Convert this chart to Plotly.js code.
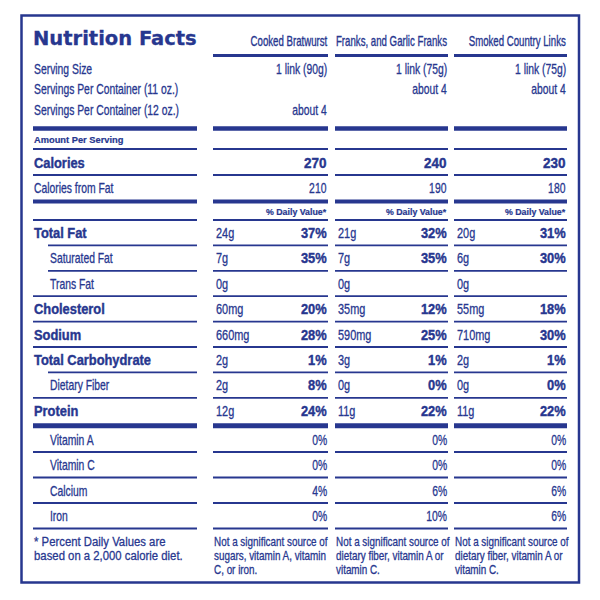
<!DOCTYPE html>
<html><head><meta charset="utf-8">
<script src="https://cdn.plot.ly/plotly-3.0.1.min.js"></script>
<style>html,body{margin:0;padding:0;background:#fff}#chart{width:600px;height:600px}</style>
</head><body><div id="chart"></div>
<script>
// ---------- data ----------
const title = "Nutrition Facts";
const products = ["Cooked Bratwurst", "Franks, and Garlic Franks", "Smoked Country Links"];
const servingLabels = ["Serving Size", "Servings Per Container (11 oz.)", "Servings Per Container (12 oz.)"];
const servingSize = ["1 link (90g)", "1 link (75g)", "1 link (75g)"];
const servings11oz = ["", "about 4", "about 4"];
const servings12oz = ["about 4", "", ""];
const calories = [270, 240, 230];
const caloriesFromFat = [210, 190, 180];
const nutrientLabels = ["Total Fat", "Saturated Fat", "Trans Fat", "Cholesterol", "Sodium", "Total Carbohydrate", "Dietary Fiber", "Protein"];
const nutrientIsSub = [false, true, true, false, false, false, true, false];
const amountsBratwurst = ["24g", "7g", "0g", "60mg", "660mg", "2g", "2g", "12g"];
const dvBratwurst = ["37%", "35%", "", "20%", "28%", "1%", "8%", "24%"];
const amountsFranks = ["21g", "7g", "0g", "35mg", "590mg", "3g", "0g", "11g"];
const dvFranks = ["32%", "35%", "", "12%", "25%", "1%", "0%", "22%"];
const amountsSmoked = ["20g", "6g", "0g", "55mg", "710mg", "2g", "0g", "11g"];
const dvSmoked = ["31%", "30%", "", "18%", "30%", "1%", "0%", "22%"];
const vitaminLabels = ["Vitamin A", "Vitamin C", "Calcium", "Iron"];
const vitBratwurst = [0, 0, 4, 0];
const vitFranks = [0, 0, 6, 10];
const vitSmoked = [0, 0, 6, 6];
const footnoteLeft = ["* Percent Daily Values are", "based on a 2,000 calorie diet."];
const footBratwurst = ["Not a significant source of", "sugars, vitamin A, vitamin", "C, or iron."];
const footFranks = ["Not a significant source of", "dietary fiber, vitamin A or", "vitamin C."];
const footSmoked = ["Not a significant source of", "dietary fiber, vitamin A or", "vitamin C."];

const amounts = [amountsBratwurst, amountsFranks, amountsSmoked];
const dvs = [dvBratwurst, dvFranks, dvSmoked];
const vits = [vitBratwurst, vitFranks, vitSmoked];
const foots = [footBratwurst, footFranks, footSmoked];

// ---------- styling / geometry ----------
const BLUE = "#27378f";
const REG = "Liberation Sans, Arial, sans-serif";
const HEAVY = "DejaVu Sans, sans-serif";
const S_TITLE = {family: HEAVY, size: 19.5, bold: true, scale: 1, stroke: 0.3};
const S_HEAD = {family: REG, size: 14, bold: false, scale: 0.69, stroke: 0.35};
const S_NAR = {family: REG, size: 14, bold: false, scale: 0.74, stroke: 0.3};
const S_AMT = {family: REG, size: 14, bold: false, scale: 0.78, stroke: 0.3};
const S_BOLD = {family: REG, size: 14.3, bold: true, scale: 0.9, stroke: 0.4};
const S_CAL = {family: REG, size: 14, bold: true, scale: 0.96, stroke: 0.4};
const S_SMALL = {family: REG, size: 9.3, bold: true, scale: 1, stroke: 0.2};
const S_DV = {family: REG, size: 8.8, bold: true, scale: 1, stroke: 0.2};
const S_FOOTL = {family: REG, size: 13.5, bold: false, scale: 0.84, stroke: 0.3};
const S_FOOT = {family: REG, size: 12.5, bold: false, scale: 0.79, stroke: 0.3};

const colLeft = [213, 335, 454];
const colRight = [328, 448, 567];
const labL = 33, labR = 197, indTxt = 49, indLine = 48;

const annotations = [];
const annStyle = [];
const annAnchor = [];
const shapes = [];
function txt(x, y, text, anchor, st) {
  if (text === "" || text === null || text === undefined) return;
  annotations.push({
    x: x, y: y, xref: "x", yref: "y", showarrow: false,
    text: st.bold ? "<b>" + text + "</b>" : String(text),
    xanchor: anchor, yanchor: "middle",
    font: {family: st.family, size: st.size, color: BLUE}, borderpad: 0
  });
  annStyle.push(st);
  annAnchor.push(anchor);
}
function hline(x0, x1, y, w) {
  shapes.push({type: "line", xref: "x", yref: "y", x0: x0, x1: x1, y0: y, y1: y,
    line: {color: BLUE, width: w}});
}
function rowLine(y, w, indent, withLabel) {
  if (withLabel !== false) hline(indent ? indLine : labL, labR, y, w);
  for (let c = 0; c < 3; c++) hline(colLeft[c], colRight[c], y, w);
}

// frame
shapes.push({type: "rect", xref: "x", yref: "y", x0: 21.5, x1: 579, y0: 15.5, y1: 582.5,
  line: {color: BLUE, width: 2.5}});

// title + headers
txt(labL - 1, 38, title, "left", S_TITLE);
for (let c = 0; c < 3; c++) txt(colRight[c], 41, products[c], "right", S_HEAD);
rowLine(55.5, 3, false, false);

// serving rows
const servingRowsY = [69, 89, 109.5];
const servingCols = [servingSize, servings11oz, servings12oz];
for (let r = 0; r < 3; r++) {
  txt(labL, servingRowsY[r], servingLabels[r], "left", S_NAR);
  for (let c = 0; c < 3; c++) txt(colRight[c], servingRowsY[r], servingCols[r][c], "right", S_NAR);
}
rowLine(128.5, 4.5);
txt(labL, 139.5, "Amount Per Serving", "left", S_SMALL);
rowLine(149, 1.8);
txt(labL, 163, "Calories", "left", S_BOLD);
for (let c = 0; c < 3; c++) txt(colRight[c], 163, calories[c], "right", S_CAL);
rowLine(175, 1.8);
txt(labL, 188, "Calories from Fat", "left", S_NAR);
for (let c = 0; c < 3; c++) txt(colRight[c], 188, caloriesFromFat[c], "right", S_NAR);
rowLine(201.5, 4);
for (let c = 0; c < 3; c++) txt(colRight[c], 211.5, "% Daily Value*", "right", S_DV);
rowLine(220, 1.8);

// nutrients
const nTop = 220, nStep = 25.4;
for (let i = 0; i < nutrientLabels.length; i++) {
  const yc = nTop + nStep * i + 13;
  const sub = nutrientIsSub[i];
  txt(sub ? indTxt : labL, yc, nutrientLabels[i], "left", sub ? S_NAR : S_BOLD);
  for (let c = 0; c < 3; c++) {
    txt(colLeft[c] + 1.5, yc, amounts[c][i], "left", S_AMT);
    txt(colRight[c], yc, dvs[c][i], "right", S_BOLD);
  }
  if (i < nutrientLabels.length - 1) {
    rowLine(nTop + nStep * (i + 1), 1.8, nutrientIsSub[i + 1]);
  }
}
rowLine(425.8, 5);

// vitamins
const vTop = 426.5, vStep = 25.5;
for (let i = 0; i < vitaminLabels.length; i++) {
  const yc = vTop + vStep * i + 13;
  txt(indTxt, yc, vitaminLabels[i], "left", S_NAR);
  for (let c = 0; c < 3; c++) txt(colRight[c], yc, vits[c][i] + "%", "right", S_NAR);
  rowLine(vTop + vStep * (i + 1), 1.8);
}

// footnotes
const fY = [541.5, 555.5, 570];
for (let k = 0; k < footnoteLeft.length; k++) txt(labL, fY[k], footnoteLeft[k], "left", S_FOOTL);
for (let c = 0; c < 3; c++) for (let k = 0; k < foots[c].length; k++)
  txt(colLeft[c], fY[k], foots[c][k], "left", S_FOOT);

const layout = {
  width: 600, height: 600,
  margin: {l: 0, r: 0, t: 0, b: 0},
  paper_bgcolor: "#ffffff", plot_bgcolor: "#ffffff",
  xaxis: {range: [0, 600], visible: false, fixedrange: true},
  yaxis: {range: [600, 0], visible: false, fixedrange: true},
  showlegend: false,
  annotations: annotations, shapes: shapes
};
Plotly.newPlot("chart", [], layout, {staticPlot: true, displayModeBar: false}).then(function (gd) {
  // condense text horizontally around its anchor (emulates the label's condensed typeface)
  annStyle.forEach(function (st, i) {
    const t = gd.querySelector('.annotation[data-index="' + i + '"] text.annotation-text');
    if (!t) return;
    if (st.stroke) { t.style.stroke = BLUE; t.style.strokeWidth = st.stroke + "px"; }
    if (st.scale === 1) return;
    const bb = t.getBBox();
    const ax = annAnchor[i] === "left" ? bb.x : bb.x + bb.width;
    const prev = t.getAttribute("transform") || "";
    t.setAttribute("transform", prev + " translate(" + ax + ",0) scale(" + st.scale + ",1) translate(" + (-ax) + ",0)");
  });
});
</script>
</body></html>
